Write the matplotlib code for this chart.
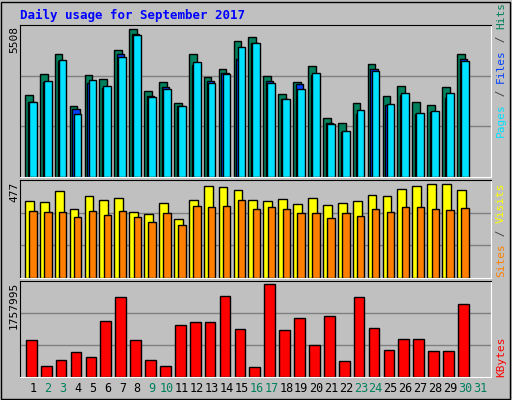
import numpy as np
import matplotlib
matplotlib.use("Agg")
import matplotlib.pyplot as plt

days = np.arange(1, 31)
hits = [3041, 3826, 4573, 2667, 3788, 3639, 4723, 5508, 3190, 3527, 2779, 4573, 3714, 4013, 5059,
        5209, 3751, 3078, 3527, 4125, 2218, 2031, 2779, 4200, 3003, 3377, 2816, 2704, 3340, 4573]
files = [2791, 3551, 4324, 2554, 3514, 3302, 4573, 5333, 3003, 3339, 2667, 4174, 3564, 3863, 4386,
         4984, 3564, 2928, 3451, 3800, 2031, 1695, 2367, 4012, 2679, 3053, 2367, 2442, 2965, 4386]
pages = [2816, 3564, 4349, 2367, 3601, 3377, 4461, 5296, 2990, 3265, 2667, 4274, 3489, 3825, 4834,
         4984, 3489, 2891, 3265, 3863, 1994, 1732, 2517, 3937, 2741, 3115, 2405, 2480, 3115, 4311]
visits = [394, 389, 441, 353, 420, 400, 410, 338, 327, 384, 301, 400, 467, 462, 446,
          400, 394, 405, 379, 410, 374, 384, 394, 425, 420, 456, 467, 477, 477, 446]
sites = [343, 338, 338, 312, 343, 322, 343, 312, 286, 332, 270, 369, 363, 369, 400,
         353, 363, 353, 332, 332, 307, 332, 317, 353, 338, 363, 363, 353, 348, 358]
kbytes = [696800, 217400, 313300, 466700, 370800, 1061200, 1521500, 696800, 313300, 217400,
          984500, 1042000, 1042000, 1540700, 907800, 198200, 1757995, 888600, 1118800, 600900,
          1157100, 294100, 1521500, 927000, 505000, 716000, 716000, 485900, 485900, 1387300]
weekend = [2, 3, 9, 10, 16, 17, 23, 24, 30, 31]

W, H = 512, 400
BG = "#c0c0c0"
MONO = "DejaVu Sans Mono"
fig = plt.figure(figsize=(W / 100, H / 100), dpi=100, facecolor=BG)

def panel(top, bottom, ymax):
    ax = fig.add_axes([20 / W, 1 - bottom / H, 471 / W, (bottom - top) / H])
    ax.set_facecolor(BG)
    ax.set_xlim(0.13, 31.74)
    ax.set_ylim(0, ymax)
    for g in (ymax / 3, 2 * ymax / 3):
        ax.axhline(g, color="#808080", lw=1, zorder=0)
    ax.set_xticks([]); ax.set_yticks([])
    for s in ("top", "left"):
        ax.spines[s].set_color("black")
    for s in ("bottom", "right"):
        ax.spines[s].set_color("white")
    return ax

kw = dict(edgecolor="black", linewidth=1, align="edge")

ax1 = panel(25, 177, 5508 * 455 / 442)
ax1.bar(days - 0.54, hits, width=0.52, color="#00805c", **kw)
ax1.bar(days - 0.35, files, width=0.48, color="#0040ff", **kw)
ax1.bar(days - 0.27, pages, width=0.52, color="#00e0ff", **kw)

ax2 = panel(180, 278, 477 * 290 / 277)
ax2.bar(days - 0.54, visits, width=0.59, color="#ffff00", **kw)
ax2.bar(days - 0.25, sites, width=0.50, color="#ff8000", **kw)

ax3 = panel(281, 377, 1757995 * 284 / 275)
ax3.bar(days - 0.47, kbytes, width=0.72, color="#ff0000", **kw)

for d in range(1, 32):
    x = 20 + (d - 0.13) / (31.74 - 0.13) * 471
    fig.text(x / W, 1 - 389 / H, str(d), ha="center", va="center", fontsize=8.5,
             family=MONO, color="#00805c" if d in weekend else "black")

fig.text(20 / W, 1 - 15 / H, "Daily usage for September 2017", ha="left", va="center",
         fontsize=9, family=MONO, weight="bold", color="#0000ff")

for top, lab in ((26, "5508"), (182, "477"), (282, "1757995")):
    fig.text(14 / W, 1 - top / H, lab, rotation=90, ha="center", va="top",
             fontsize=8, family=MONO, color="black")

renderer = fig.canvas.get_renderer()

def side(parts, bottom):
    y = bottom
    for txt, col in parts:
        t = fig.text(501 / W, 1 - y / H, txt, rotation=90, ha="center", va="bottom",
                     fontsize=8, family=MONO, color=col)
        y -= t.get_window_extent(renderer).height

side([("Pages", "#00e0ff"), (" / ", "#404040"), ("Files", "#0040ff"), (" / ", "#404040"),
      ("Hits", "#00805c")], 137)
side([("Sites", "#ff8000"), (" / ", "#404040"), ("Visits", "#ffff00")], 277)
side([("KBytes", "#ff0000")], 377)

fig.patches.append(plt.Rectangle((1 / W, 1 / H), 1 - 3 / W, 1 - 3 / H, transform=fig.transFigure,
                                 fill=False, edgecolor="black", lw=1))
fig.savefig("out.png", dpi=100, facecolor=BG)
